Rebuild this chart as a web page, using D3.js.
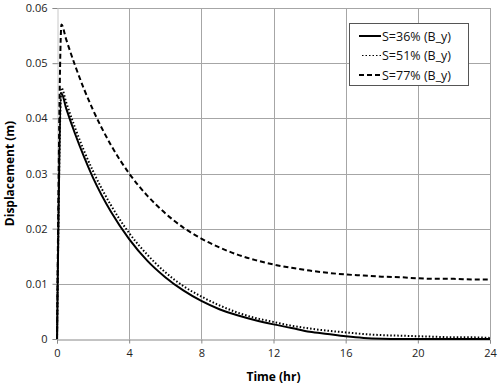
<!DOCTYPE html>
<html>
<head>
<meta charset="utf-8">
<script src="https://cdn.jsdelivr.net/npm/d3@7"></script>
<style>
  body { margin: 0; background: #fff; }
  text { font-family: "Open Sans", "Noto Sans", sans-serif; }
</style>
</head>
<body>
<div id="chart"></div>
<script>
// time (hr) and displacement (m)
var time = [0, 0.25, 0.5, 1, 1.5, 2, 3, 4, 5, 6, 7, 8, 9, 10, 11, 12, 13, 14, 15, 16, 17, 18, 19, 20, 21, 22, 23, 24];
var s36 = [0, 0.0445, 0.0419, 0.0372, 0.0330, 0.0292, 0.0230, 0.0181, 0.0142, 0.0112, 0.0088, 0.0069, 0.0054, 0.0043, 0.0034, 0.00265, 0.0020, 0.0013, 0.0009, 0.0005, 0.0002, 0.00005, 0, 0, 0, 0, 0, 0];
var s51 = [0, 0.0455, 0.0430, 0.0383, 0.0341, 0.0304, 0.0242, 0.0192, 0.0153, 0.0121, 0.0096, 0.0077, 0.0061, 0.0048, 0.0038, 0.0031, 0.0024, 0.0019, 0.0015, 0.0012, 0.0009, 0.0007, 0.0006, 0.0005, 0.0004, 0.0003, 0.0003, 0.0002];
var s77 = [0, 0.0570, 0.0544, 0.0496, 0.0453, 0.0415, 0.0351, 0.0300, 0.0260, 0.0228, 0.0202, 0.0182, 0.0166, 0.0153, 0.0143, 0.0135, 0.0129, 0.0124, 0.0120, 0.0117, 0.0115, 0.0113, 0.0112, 0.0110, 0.0109, 0.0109, 0.0108, 0.0108];

var seriesNames = ["S=36% (B_y)", "S=51% (B_y)", "S=77% (B_y)"];
var xTicks = [0, 4, 8, 12, 16, 20, 24];
var yTicks = [0, 0.01, 0.02, 0.03, 0.04, 0.05, 0.06];

var series = [
  { name: seriesNames[0], values: s36, dash: null },
  { name: seriesNames[1], values: s51, dash: "1.5,2" },
  { name: seriesNames[2], values: s77, dash: "5,3" }
];

// plot area
var margin = {top: 8, right: 10, bottom: 48, left: 57}
  , width = 500 - margin.left - margin.right
  , height = 387 - margin.top - margin.bottom;

var x = d3.scaleLinear().domain([0, 24]).range([0, width]);
var y = d3.scaleLinear().domain([0, 0.06]).range([height, 0]);

var svg = d3.select("#chart").append("svg")
  .attr("width", 500)
  .attr("height", 387);

var main = svg.append("g")
  .attr("transform", "translate(" + margin.left + "," + margin.top + ")");

// gridlines
main.append("g")
  .selectAll("line.h")
  .data(yTicks.slice(1))
  .enter().append("line")
  .attr("x1", 0).attr("x2", width)
  .attr("y1", function(d) { return Math.round(y(d)) + 0.5; })
  .attr("y2", function(d) { return Math.round(y(d)) + 0.5; })
  .attr("stroke", "#a6a6a6");

main.append("g")
  .selectAll("line.v")
  .data(xTicks.slice(1))
  .enter().append("line")
  .attr("y1", 0).attr("y2", height)
  .attr("x1", function(d) { return Math.round(x(d)) + 0.5; })
  .attr("x2", function(d) { return Math.round(x(d)) + 0.5; })
  .attr("stroke", "#a6a6a6");

// y axis
var yAxis = main.append("g")
  .attr("transform", "translate(0.5,0)")
  .call(d3.axisLeft(y).tickValues(yTicks).tickSize(5).tickPadding(5)
    .tickFormat(function(d) { return d === 0 ? "0" : d3.format(".2f")(d); }));
yAxis.select(".domain").attr("stroke", "#c8c8c8");
yAxis.selectAll(".tick line").attr("stroke", "#888");
yAxis.selectAll("text").attr("font-size", 11).attr("fill", "#222");

// x axis
var xAxis = main.append("g")
  .attr("transform", "translate(0," + (height + 0.5) + ")")
  .call(d3.axisBottom(x).tickValues(xTicks).tickSize(4).tickPadding(6));
xAxis.select(".domain").attr("stroke", "#888");
xAxis.selectAll(".tick line").attr("stroke", "#888");
xAxis.selectAll("text").attr("font-size", 11).attr("fill", "#222");

// lines
var line = d3.line()
  .x(function(d, i) { return x(time[i]); })
  .y(function(d) { return y(d); })
  .curve(d3.curveMonotoneX);

main.selectAll("path.series")
  .data(series)
  .enter().append("path")
  .attr("class", "series")
  .attr("fill", "none")
  .attr("stroke", "#000")
  .attr("stroke-width", 2)
  .attr("stroke-dasharray", function(d) { return d.dash; })
  .attr("d", function(d) { return line(d.values); });

// axis titles
svg.append("text")
  .attr("text-anchor", "middle")
  .attr("x", margin.left + width / 2)
  .attr("y", 381)
  .attr("font-size", 12)
  .attr("font-weight", "bold")
  .text("Time (hr)");

svg.append("text")
  .attr("text-anchor", "middle")
  .attr("transform", "translate(14," + (margin.top + height / 2) + ")rotate(-90)")
  .attr("font-size", 12)
  .attr("font-weight", "bold")
  .text("Displacement (m)");

// legend
var legend = svg.append("g");
legend.append("rect")
  .attr("x", 349.5).attr("y", 23.5)
  .attr("width", 119).attr("height", 62)
  .attr("fill", "#fff")
  .attr("stroke", "#555");

var item = legend.selectAll("g.item")
  .data(series)
  .enter().append("g")
  .attr("transform", function(d, i) { return "translate(0," + (36 + i * 19.5) + ")"; });

item.append("line")
  .attr("x1", function(d) { return d.dash === "1.5,2" ? 362 : 359; })
  .attr("x2", 381)
  .attr("y1", 0).attr("y2", 0)
  .attr("stroke", "#000")
  .attr("stroke-width", function(d) { return d.dash === "1.5,2" ? 1.2 : 2; })
  .attr("stroke-dasharray", function(d) { return d.dash; });

item.append("text")
  .attr("x", 382)
  .attr("y", 4.5)
  .attr("font-size", 12.5)
  .attr("fill", "#111")
  .text(function(d) { return d.name; });
</script>
</body>
</html>
